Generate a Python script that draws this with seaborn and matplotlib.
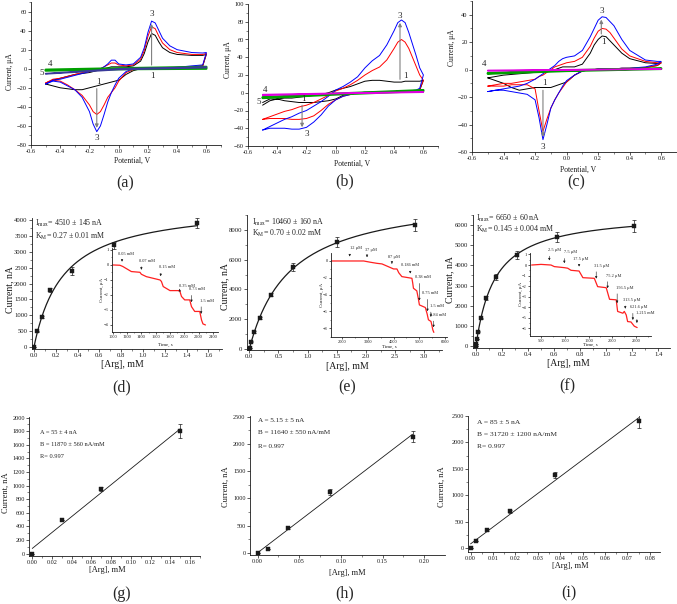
import numpy as np
import matplotlib
matplotlib.use("Agg")
import matplotlib.pyplot as plt
import seaborn as sns
from matplotlib.ticker import AutoMinorLocator, MultipleLocator

sns.set_theme(style="ticks")
plt.rcParams['font.family'] = ['Liberation Serif', 'DejaVu Serif']
plt.rcParams['mathtext.fontset'] = 'stix'
plt.rcParams['axes.linewidth'] = 0.6

# =====================
# CV data (a), (b), (c): forward and reverse scans, current in uA
# =====================
E_ac = [-0.5, -0.45, -0.4, -0.35, -0.3, -0.25, -0.2, -0.175, -0.15, -0.125, -0.1, -0.075, -0.05, -0.025,
        0.0, 0.05, 0.1, 0.15, 0.175, 0.2, 0.225, 0.25, 0.275, 0.3, 0.35, 0.4, 0.5, 0.575, 0.6]
E_flat = [-0.5, 0.0, 0.6]

a1_fwd = [-16, -12, -10, -8, -6, -5, -4, -3, -2, -1, 0, 1, 2, 2, 2, 2, 3, 8, 16, 28, 37, 35, 28, 22, 17, 15, 14, 14, 15]
a1_rev = [-16, -18, -20, -21, -22, -22, -20, -19, -18, -17, -16, -15, -14, -13, -12, -6, -2, 0, 0.5, 0.5, 0.5, 1, 1, 1, 1, 1, 2, 3, 15]
a2_fwd = [-15, -11, -10, -8, -6, -4, -3, -2, -1, 0, 2, 4, 6, 6, 4, 3, 4, 10, 19, 34, 44, 42, 34, 27, 20, 17, 15, 15, 16]
a2_rev = [-15, -12, -13, -17, -22, -28, -38, -45, -48, -45, -38, -30, -25, -20, -13, -4, -1, 0, 0.5, 0.5, 0.5, 1, 1, 1, 1, 1, 2, 3, 16]
a3_fwd = [-16, -12, -11, -9, -7, -5, -3, -2, -1, 0, 2, 5, 9, 9, 5, 4, 5, 12, 22, 38, 50, 48, 40, 32, 24, 20, 17, 16.5, 17]
a3_rev = [-16, -13, -14, -18, -22, -30, -45, -58, -66, -60, -48, -35, -25, -17, -10, -3, 0, 0.5, 0.5, 1, 1, 1, 1, 1, 1, 1.5, 3, 4, 17]
a4_fwd = [-1, 0.5, 2]
a4_rev = [-2, -0.5, 0]
a5_fwd = [-5, 0, 2]
a5_rev = [-5.5, -1, 1]

E_b = [-0.5, -0.45, -0.4, -0.35, -0.3, -0.25, -0.2, -0.15, -0.1, -0.05, 0.0, 0.05, 0.1, 0.15, 0.2, 0.25,
       0.3, 0.35, 0.4, 0.425, 0.45, 0.475, 0.5, 0.55, 0.575, 0.6]
b1_fwd = [-14, -9, -7, -6, -6, -5, -4, -3, -2, 0, 3, 5, 7, 10, 13, 14, 14, 13, 12, 12, 12, 13, 13, 13, 13, 14]
b1_rev = [-11, -7, -7, -9, -10, -11, -11, -11, -10, -9, -7, -3, -1, 0, 0.5, 0.5, 1, 1, 1, 1, 1, 1.5, 1.5, 2, 3, 14]
b2_fwd = [-30, -27, -24, -21, -19, -16, -14, -11, -7, -3, 2, 5, 9, 14, 20, 25, 29, 37, 50, 57, 60, 57, 50, 30, 20, 14]
b2_rev = [-30, -29, -29, -29, -30, -30, -29, -26, -20, -13, -8, -4, -2, 0, 0.5, 0.5, 1, 1, 1, 1, 1.5, 1.5, 1.5, 2, 4, 14]
b3_fwd = [-42, -38, -34, -30, -27, -23, -20, -15, -10, -4, 3, 7, 12, 18, 28, 36, 42, 54, 70, 79, 82, 79, 68, 42, 28, 20]
b3_rev = [-42, -40, -40, -40, -41, -41, -39, -33, -25, -15, -8, -4, -2, 0, 0.5, 0.5, 1, 1, 1.5, 1.5, 1.5, 1.5, 2, 3, 5, 20]
b4_fwd = [-5, -1, 3]
b4_rev = [-6, -2, 2]
b5_fwd = [-2, -0.5, 1]
b5_rev = [-3, -1, 0.5]

c1_fwd = [-6, -5, -4, -3.5, -3, -2.5, -2, -2, -1.5, -1, 0, 0, 1, 2, 2, 2, 4, 12, 18, 22, 24.5, 24, 21, 18, 12, 8, 5, 4.5, 5]
c1_rev = [-6, -8, -10, -13, -15, -14, -13, -13, -13, -13, -13, -12, -11, -10, -9, -4, -1, 0, 0, 0.5, 0.5, 0.5, 0.5, 0.5, 1, 1, 1.5, 3, 5]
c2_fwd = [-12, -11, -10, -10, -9, -8, -7, -5, -4, -2, 0, 2, 3, 4, 5, 6, 9, 17, 23, 28, 30, 29.5, 27, 23, 15, 10, 6, 5, 5]
c2_rev = [-12, -12, -12, -11, -11, -11, -14, -30, -45, -36, -28, -22, -17, -13, -9, -4, -1, 0, 0, 0.5, 0.5, 0.5, 0.5, 0.5, 1, 1, 1.5, 3, 5]
c3_fwd = [-16, -15, -14, -13, -12, -10, -7, -5, -3, -1, 1, 3, 6, 8, 9, 10, 14, 24, 30, 36, 38.5, 38, 35, 32, 22, 14, 7, 6, 6]
c3_rev = [-16, -15, -15, -16, -17, -18, -22, -35, -51, -40, -28, -22, -17, -12, -8, -4, -1, 0, 0, 0.5, 0.5, 0.5, 0.5, 0.5, 1, 1, 2, 4, 6]
c4_fwd = [-2.5, -0.5, 1]
c4_rev = [-3, -1, 0.5]
c5_fwd = [-0.5, 0, 0.5]
c5_rev = [-1, -0.3, 0.3]

# =====================
# Calibration data (d)-(i), current in nA
# =====================
d_x = [0, 0.03, 0.07, 0.15, 0.35, 0.73, 1.5]
d_y = [0, 490, 940, 1800, 2400, 3200, 3900]
d_err = [0, 20, 40, 60, 130, 120, 150]
d_Imax, d_Km = 4510, 0.27

e_x = [0, 0.012, 0.037, 0.087, 0.186, 0.38, 0.75, 1.5, 2.84]
e_y = [0, 60, 500, 1130, 2100, 3650, 5500, 7200, 8300]
e_err = [0, 0, 40, 60, 80, 120, 250, 350, 400]
e_Imax, e_Km = 10460, 0.70

f_x = [0, 0.0025, 0.0075, 0.0175, 0.0375, 0.075, 0.156, 0.313, 0.62, 1.215]
f_y = [0, 100, 330, 700, 1370, 2400, 3400, 4500, 5400, 5950]
f_err = [0, 0, 0, 20, 40, 100, 150, 200, 250, 300]
f_Imax, f_Km = 6650, 0.145

g_x = [0, 0.03, 0.07, 0.15]
g_y = [0, 490, 950, 1800]
g_err = [0, 0, 30, 100]
h_x = [0, 0.012, 0.037, 0.087, 0.186]
h_y = [0, 60, 460, 1120, 2130]
h_err = [0, 0, 20, 50, 100]
i_x = [0, 0.0025, 0.0075, 0.0175, 0.0375, 0.075]
i_y = [0, 130, 340, 700, 1380, 2400]
i_err = [0, 0, 20, 30, 60, 120]

# inset amperometric traces (uA vs s)
d_t = [1000, 1100, 1140, 1260, 1380, 1400, 1470, 1660, 1680, 1705, 1800, 1935, 1960, 2005, 2075, 2100, 2145, 2215, 2240, 2260, 2295]
d_I = [0, -0.02, -0.1, -0.44, -0.49, -0.62, -0.78, -1.0, -1.1, -1.44, -1.71, -1.71, -2.1, -2.33, -2.33, -2.78, -3.1, -3.1, -3.67, -3.93, -4.0]
d_lab = ['0.05 mM', '0.07 mM', '0.15 mM', '0.35 mM', '0.73 mM', '1.5 mM']
d_lab_x = [1080, 1370, 1640, 1930, 2065, 2215]
d_lab_y = [0.73, 0.29, -0.16, -1.4, -1.62, -2.38]
d_arr_t = [1130, 1400, 1670, 1935, 2100, 2235]

e_t = [1600, 2840, 3100, 3355, 3550, 4000, 4130, 4200, 4320, 4710, 4740, 4770, 4900, 4960, 5000, 5230, 5300, 5350, 5450, 5480, 5520, 5560]
e_I = [0, 0, -0.15, -0.28, -0.35, -0.95, -0.95, -1.4, -1.86, -2.06, -2.6, -3.25, -3.56, -4.5, -5.23, -5.54, -6.3, -7.0, -7.2, -7.6, -8.2, -8.5]
e_lab = ['12 μM', '37 μM', '87 μM', '0.186 mM', '0.38 mM', '0.75 mM', '1.5 mM', '2.84 mM']
e_lab_x = [2320, 2900, 3800, 4280, 4840, 5110, 5400, 5400]
e_lab_y = [1.5, 1.3, 0.5, -0.48, -1.94, -3.84, -5.35, -6.42]
e_arr_t = [2300, 2970, 3935, 4645, 5000, 5315, 5445, 5550]

f_t = [303, 500, 710, 780, 990, 1060, 1130, 1300, 1380, 1620, 1690, 1870, 1940, 2080, 2110, 2220, 2250, 2290, 2320, 2390, 2460, 2520]
f_I = [0, 0.06, 0, -0.15, -0.25, -0.3, -0.5, -0.57, -1.2, -1.26, -2.05, -2.15, -3.25, -3.3, -4.4, -4.57, -4.4, -4.73, -5.36, -5.4, -5.8, -5.93]
f_lab = ['2.5 μM', '7.5 μM', '17.5 μM', '31.5 μM', '75.2 μM', '156.5 μM', '313.5 μM', '621.6 μM', '1.215 mM']
f_lab_x = [655, 990, 1170, 1620, 1870, 2080, 2220, 2360, 2500]
f_lab_y = [1.42, 1.2, 0.57, -0.06, -1.0, -2.15, -3.3, -4.0, -4.57]
f_arr_t = [675, 990, 1300, 1660, 1900, 2100, 2270, 2430, 2515]

# =====================
# Figure helpers (pixel layout)
# =====================
W, H = 677, 604
fig = plt.figure(figsize=(W / 100, H / 100), dpi=100)


def add_ax(l, t, r, b):
    return fig.add_axes([l / W, 1 - b / H, (r - l) / W, (b - t) / H])


def style(ax, fs, ticklen=2.2):
    sns.despine(ax=ax)
    ax.tick_params(which='major', direction='out', length=ticklen, width=0.5, labelsize=fs, pad=1, colors='k')
    ax.tick_params(which='minor', direction='out', length=ticklen * 0.55, width=0.4)
    ax.xaxis.set_minor_locator(AutoMinorLocator(2))
    ax.yaxis.set_minor_locator(AutoMinorLocator(2))
    ax.set_facecolor('none')
    for s in ax.spines.values():
        s.set_color('k')


def labels(ax, xl, yl, xpos, ypos, fs):
    ax.set_xlabel(xl, fontsize=fs, color='k')
    ax.set_ylabel(yl, fontsize=fs, color='k')
    ax.xaxis.set_label_coords(xpos[0] / W, 1 - xpos[1] / H, transform=fig.transFigure)
    ax.yaxis.set_label_coords(ypos[0] / W, 1 - ypos[1] / H, transform=fig.transFigure)


def ftxt(x, y, s, **kw):
    fig.text(x / W, 1 - y / H, s, **kw)


def draw_cv(ax, E, fwd, rev, color, lw=0.7):
    xs = list(E) + list(E)[::-1]
    ys = list(fwd) + list(rev)[::-1]
    sns.lineplot(x=xs, y=ys, sort=False, estimator=None, color=color, lw=lw, ax=ax)


def cv_arrow(ax, x, y0, y1):
    ax.annotate('', xy=(x, y1), xytext=(x, y0),
                arrowprops=dict(arrowstyle='-|>', color='#808080', lw=0.8, mutation_scale=5))


# =====================
# Panels (a)-(c): cyclic voltammograms
# =====================
cv_specs = [
    ('a', (31, 2, 221, 145), (-80, 70), 20, E_ac,
     [(a1_fwd, a1_rev), (a2_fwd, a2_rev), (a3_fwd, a3_rev)], (a4_fwd, a4_rev), (a5_fwd, a5_rev), '#3a3a9a',
     (132, 157), (14, 72)),
    ('b', (248, 4, 438, 146), (-60, 100), 20, E_b,
     [(b1_fwd, b1_rev), (b2_fwd, b2_rev), (b3_fwd, b3_rev)], (b4_fwd, b4_rev), (b5_fwd, b5_rev), '#e000e0',
     (352, 160), (232, 60)),
    ('c', (472, 1, 677, 152), (-60, 50), 20, E_ac,
     [(c1_fwd, c1_rev), (c2_fwd, c2_rev), (c3_fwd, c3_rev)], (c4_fwd, c4_rev), (c5_fwd, c5_rev), '#e000e0',
     (578, 166), (456, 48)),
]
cv_colors = ['#000000', '#ff0000', '#0000ff']
cv_axes = {}
for key, box, ylim, ystep, E, main, green, flat5, c5, xlpos, ylpos in cv_specs:
    ax = add_ax(*box)
    for (fw, rv), col in zip(main, cv_colors):
        draw_cv(ax, E, fw, rv, col)
    draw_cv(ax, E_flat, green[0], green[1], '#00a000', lw=1.6)
    draw_cv(ax, E_flat, flat5[0], flat5[1], c5, lw=1.0)
    ax.set_xlim(-0.6, 0.7)
    ax.set_ylim(*ylim)
    ax.yaxis.set_major_locator(MultipleLocator(ystep))
    ax.set_xticks(np.round(np.arange(-0.6, 0.61, 0.2), 1))
    ax.set_xticklabels(['-0.6', '-0.4', '-0.2', '0.0', '0.2', '0.4', '0.6'])
    style(ax, 4.6)
    labels(ax, 'Potential, V', 'Current, μA', xlpos, ylpos, 5.5)
    cv_axes[key] = ax

tfs = 6.5
ax = cv_axes['a']
cv_arrow(ax, 0.225, 1, 50)
cv_arrow(ax, -0.15, -18, -65)
for x, y, s in [(0.23, -8, '1'), (0.225, 57, '3'), (-0.14, -14, '1'), (-0.15, -73, '3'), (-0.47, 5, '4'), (-0.53, -4.5, '5')]:
    ax.text(x, y, s, fontsize=tfs, ha='center', va='center')
ax = cv_axes['b']
cv_arrow(ax, 0.44, 12, 82)
cv_arrow(ax, -0.23, -11, -42)
for x, y, s in [(0.48, 19, '1'), (0.44, 87, '3'), (-0.22, -7, '1'), (-0.2, -47, '3'), (-0.48, 3, '4'), (-0.53, -10, '5')]:
    ax.text(x, y, s, fontsize=tfs, ha='center', va='center')
ax = cv_axes['c']
cv_arrow(ax, 0.22, 24, 38.5)
cv_arrow(ax, -0.15, -13, -51)
for x, y, s in [(0.235, 20, '1'), (0.22, 43, '3'), (-0.14, -10, '1'), (-0.15, -56, '3'), (-0.52, 4, '4')]:
    ax.text(x, y, s, fontsize=tfs, ha='center', va='center')

# =====================
# Panels (d)-(f): Michaelis-Menten calibration with inset traces
# =====================
mm_specs = [
    ((32, 218, 222, 349), (-0.018, 1.725), (-63, 4063), 0.2, 500, d_x, d_y, d_err, d_Imax, d_Km,
     (35, 223, 13.5), '4510 ± 145', '0.27 ± 0.01', (122, 360), (14.5, 290)),
    ((246.7, 215, 442.3, 350), (-0.045, 3.31), (-70, 9000), 0.5, 2000, e_x, e_y, e_err, e_Imax, e_Km,
     (252, 222, 11.7), '10460 ± 160', '0.70 ± 0.02', (347, 362), (229.5, 287)),
    ((472.7, 215, 670, 348), (-0.025, 1.49), (-100, 6500), 0.2, 1000, f_x, f_y, f_err, f_Imax, f_Km,
     (476, 218, 11.7), '6650 ± 60', '0.145 ± 0.004', (568, 359), (454, 280)),
]
for box, xlim, ylim, xstep, ystep, x, y, err, Imax, Km, tpos, ti, tk, xlpos, ylpos in mm_specs:
    ax = add_ax(*box)
    xf = np.linspace(0, max(x), 200)
    sns.lineplot(x=xf, y=Imax * xf / (Km + xf), color='k', lw=0.9, ax=ax)
    ax.errorbar(x, y, yerr=err, fmt='none', ecolor='k', elinewidth=0.5, capsize=1.6, capthick=0.5)
    sns.scatterplot(x=x, y=y, marker='s', s=10, color='k', edgecolor='k', linewidth=0.3, ax=ax, zorder=5)
    ax.set_xlim(*xlim)
    ax.set_ylim(*ylim)
    ax.xaxis.set_major_locator(MultipleLocator(xstep))
    ax.yaxis.set_major_locator(MultipleLocator(ystep))
    style(ax, 4.8)
    labels(ax, '[Arg], mM', 'Current, nA', xlpos, ylpos, 7)
    ftxt(tpos[0], tpos[1], r'I$_{\rm max}$= ' + ti + ' nA', fontsize=5.7, va='center')
    ftxt(tpos[0], tpos[1] + tpos[2], r'K$_{\rm M}$= ' + tk + ' mM', fontsize=5.7, va='center')

# insets
inset_specs = [
    ((112, 248, 218, 332), (990, 2470), (-4.47, 1.13), 200, 1, d_t, d_I, d_lab, d_lab_x, d_lab_y, d_arr_t,
     (165, 342.5), (104, 290)),
    ((331, 253, 447, 337), (1574, 6070), (-9.05, 0.95), 1000, 2, e_t, e_I, e_lab, e_lab_x, e_lab_y, e_arr_t,
     (389, 345), (324, 295)),
    ((530, 253, 651, 336), (269, 2811), (-6.73, 1.14), 500, 1, f_t, f_I, f_lab, f_lab_x, f_lab_y, f_arr_t,
     (590, 343), (523, 294)),
]
for box, xlim, ylim, xstep, ystep, t, I, lab, lx, ly, at, xlpos, ylpos in inset_specs:
    ax = add_ax(*box)
    sns.lineplot(x=t, y=I, sort=False, estimator=None, color='#ff2020', lw=0.9, ax=ax)
    ax.set_xlim(*xlim)
    ax.set_ylim(*ylim)
    ax.xaxis.set_major_locator(MultipleLocator(xstep))
    ax.yaxis.set_major_locator(MultipleLocator(ystep))
    style(ax, 3.2, ticklen=1.5)
    labels(ax, 'Time, s', 'Current, μA', xlpos, ylpos, 3.6)
    yr = ylim[1] - ylim[0]
    for s, x0, y0, ta in zip(lab, lx, ly, at):
        ax.text(x0, y0, s, fontsize=3.2, ha='left', va='center', clip_on=False)
        tip = np.interp(ta, t, I) + 0.02 * yr
        ax.annotate('', xy=(ta, tip), xytext=(ta, y0 - 0.04 * yr),
                    arrowprops=dict(arrowstyle='-|>', color='k', lw=0.4, mutation_scale=3))

# =====================
# Panels (g)-(i): linear ranges
# =====================
lin_specs = [
    ((29.3, 417, 200, 555.7), (-0.003, 0.170), (-30, 2010), 0.02, 200, g_x, g_y, g_err,
     (40, 432, 12.3, 4.6), ['A = 55 ± 4 nA', 'B = 11870 ± 560 nA/mM', 'R= 0.997'], (107, 566), (10, 493),
     ['0.00', '0.02', '0.04', '0.06', '0.08', '0.10', '0.12', '0.14', '0.16']),
    ((250, 416, 445, 555), (-0.0092, 0.2249), (-42, 2513), 0.05, 500, h_x, h_y, h_err,
     (258, 420, 13, 5.1), ['A = 5.15 ± 5 nA', 'B = 11640 ± 550 nA/mM', 'R= 0.997'], (347, 569), (230, 487),
     ['0.00', '0.05', '0.10', '0.15', '0.20']),
    ((468.3, 416, 660, 551.7), (-0.001, 0.0845), (-64, 2500), 0.01, 500, i_x, i_y, i_err,
     (477, 422, 12.3, 5.4), ['A = 85 ± 5 nA', 'B = 31720 ± 1200 nA/mM', 'R= 0.997'], (570, 562), (446, 487),
     ['0.00', '0.01', '0.02', '0.03', '0.04', '0.05', '0.06', '0.07', '0.08']),
]
for box, xlim, ylim, xstep, ystep, x, y, err, tpos, txts, xlpos, ylpos, xtl in lin_specs:
    ax = add_ax(*box)
    sns.regplot(x=x, y=y, ci=None, scatter=False, color='k', line_kws=dict(lw=0.6), ax=ax)
    ax.errorbar(x, y, yerr=err, fmt='none', ecolor='k', elinewidth=0.5, capsize=1.6, capthick=0.5)
    sns.scatterplot(x=x, y=y, marker='s', s=10, color='k', edgecolor='k', linewidth=0.3, ax=ax, zorder=5)
    ax.set_xlim(*xlim)
    ax.set_ylim(*ylim)
    ax.set_xticks(np.arange(len(xtl)) * xstep)
    ax.set_xticklabels(xtl)
    ax.yaxis.set_major_locator(MultipleLocator(ystep))
    style(ax, 4.4)
    labels(ax, '[Arg], mM', 'Current, nA', xlpos, ylpos, 6)
    for k, s in enumerate(txts):
        ftxt(tpos[0], tpos[1] + tpos[2] * k, s, fontsize=tpos[3], va='center')

# =====================
# Panel letters
# =====================
for s, x, y in [('(a)', 125, 183), ('(b)', 345, 181), ('(c)', 576, 182),
                ('(d)', 122, 387), ('(e)', 347, 387), ('(f)', 567, 386),
                ('(g)', 122, 594), ('(h)', 345, 593), ('(i)', 569, 593)]:
    ftxt(x, y, s, fontsize=11.5, ha='center', va='center')

fig.savefig('out.png', dpi=100, facecolor='white')
